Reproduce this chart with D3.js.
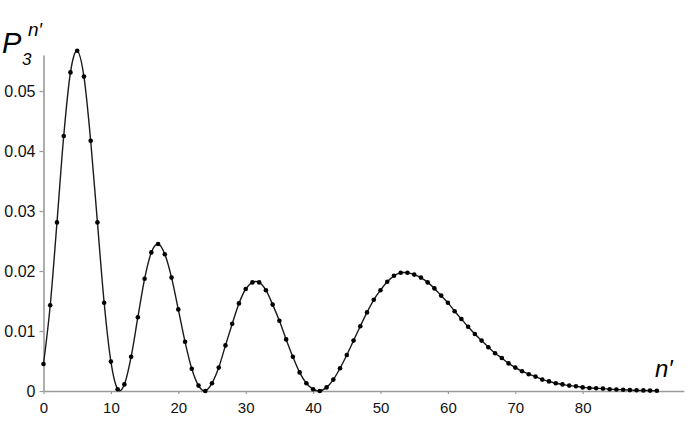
<!DOCTYPE html>
<html>
<head>
<meta charset="utf-8">
<script src="https://cdn.jsdelivr.net/npm/d3@7"></script>
<style>
  body { margin: 0; background: #fff; }
  svg { display: block; font-family: "Liberation Sans", Arial, sans-serif; }
</style>
</head>
<body>
<div class="CHART"></div>
<script>
// values, n' = 0 .. 91
var prob = [
  0.0045, 0.0143, 0.0281, 0.0425, 0.0531, 0.0567, 0.0524, 0.0417, 0.0281, 0.0147,
  0.0049, 0.0003, 0.0011, 0.0057, 0.0123, 0.0187, 0.0231, 0.0245, 0.0228, 0.0189,
  0.0136, 0.0082, 0.0037, 0.0009, 0.0000, 0.0013, 0.0039, 0.0076, 0.0112, 0.0146,
  0.0170, 0.0181, 0.0181, 0.0168, 0.0144, 0.0117, 0.0086, 0.0057, 0.0031, 0.0013,
  0.0003, 0.0000, 0.0006, 0.0019, 0.0038, 0.0060, 0.0084, 0.0108, 0.0131, 0.0152,
  0.0168, 0.0182, 0.0192, 0.0197, 0.0197, 0.0194, 0.0189, 0.0181, 0.0171, 0.0159,
  0.0147, 0.0133, 0.0120, 0.0107, 0.0095, 0.0084, 0.0073, 0.0063, 0.0055, 0.0046,
  0.0039, 0.0033, 0.0028, 0.0024, 0.0019, 0.0016, 0.0013, 0.0011, 0.0009, 0.0008,
  0.0006, 0.0005, 0.00045, 0.0004, 0.0003, 0.00025, 0.0002, 0.00015, 0.00012, 0.0001,
  0.00007, 0.00005
];
var nValues = prob.map(function(d, i) { return i; });
var xTicks = [0, 10, 20, 30, 40, 50, 60, 70, 80];
var yTicks = [0, 0.01, 0.02, 0.03, 0.04, 0.05];

var width = 690, height = 427;

var canvas = d3.select(".CHART").append("svg")
    .attr("width", width)
    .attr("height", height);

var scaleX = d3.scaleLinear().domain([0, 95]).range([43.5, 43.5 + 95 * 6.74]);
var scaleY = d3.scaleLinear().domain([0, 0.056]).range([391, 55]);

var axisColor = "#9a9a9a";

// x axis
var xAxis = canvas.append("g")
    .attr("transform", "translate(0," + scaleY(0) + ")")
    .call(d3.axisBottom(scaleX).tickValues(xTicks).tickSize(3).tickSizeOuter(0).tickPadding(8)
      .tickFormat(function(d) { return d; }));
xAxis.select(".domain").attr("stroke", axisColor).attr("stroke-width", 1.6);
xAxis.selectAll(".tick line").attr("stroke", axisColor).attr("stroke-width", 1.2);
xAxis.selectAll(".tick text").attr("fill", "#111").style("font-size", "15px");

// y axis
var yAxis = canvas.append("g")
    .attr("transform", "translate(" + scaleX(0) + ",0)")
    .call(d3.axisLeft(scaleY).tickValues(yTicks).tickSize(4).tickSizeOuter(0).tickPadding(4)
      .tickFormat(function(d) { return d === 0 ? "0" : d3.format(".2f")(d); }));
yAxis.select(".domain").attr("stroke", axisColor).attr("stroke-width", 1.6);
yAxis.selectAll(".tick line").attr("stroke", axisColor).attr("stroke-width", 1.2);
yAxis.selectAll(".tick text").attr("fill", "#111").style("font-size", "16px");

// smooth curve through the points
var line = d3.line()
    .x(function(d) { return scaleX(d); })
    .y(function(d) { return scaleY(prob[d]); })
    .curve(d3.curveCatmullRom.alpha(0));

canvas.append("path")
    .datum(nValues)
    .attr("d", line)
    .attr("fill", "none")
    .attr("stroke", "#1a1a1a")
    .attr("stroke-width", 1.4);

canvas.selectAll("circle")
    .data(nValues)
    .enter()
    .append("circle")
    .attr("cx", function(d) { return scaleX(d); })
    .attr("cy", function(d) { return scaleY(prob[d]); })
    .attr("r", 2.3)
    .attr("fill", "#000");

// y title: P with subscript 3 and superscript n'
var yTitle = canvas.append("text")
    .attr("font-style", "italic")
    .attr("fill", "#000");
yTitle.append("tspan").attr("x", 2).attr("y", 53).style("font-size", "29px").text("P");
yTitle.append("tspan").attr("x", 22).attr("y", 65).style("font-size", "17px").text("3");
yTitle.append("tspan").attr("x", 28).attr("y", 36).style("font-size", "19px").text("n\u2032");

canvas.append("text")
    .attr("x", 655)
    .attr("y", 377)
    .attr("font-style", "italic")
    .style("font-size", "24px")
    .text("n\u2032");
</script>
</body>
</html>
